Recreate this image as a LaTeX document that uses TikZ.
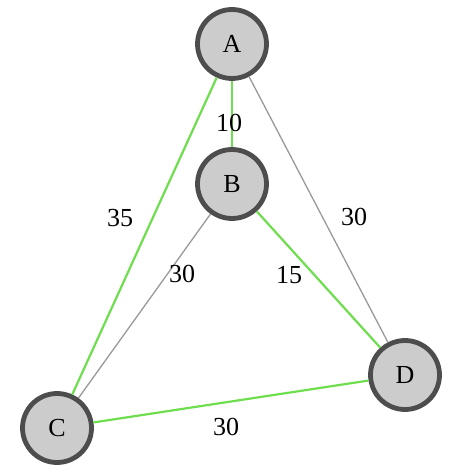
\documentclass[tikz,border=0pt]{standalone}
\usepackage{fontspec}
\setmainfont{Liberation Serif}
\definecolor{nodefill}{HTML}{CCCCCC}
\definecolor{nodeborder}{HTML}{4D4D4D}
\definecolor{edgegreen}{HTML}{6EDE4E}
\definecolor{edgegrey}{HTML}{999999}
\begin{document}
\begin{tikzpicture}[x=1pt,y=-1pt,
  vertex/.style={circle,draw=nodeborder,fill=nodefill,line width=4.8pt,minimum size=69pt,inner sep=0pt,font=\fontsize{26}{26}\selectfont},
  greenedge/.style={draw=edgegreen,line width=2.2pt},
  greyedge/.style={draw=edgegrey,line width=1.3pt},
  wlabel/.style={font=\fontsize{26}{26}\selectfont,inner sep=0pt}]
\useasboundingbox (0,0) rectangle (474,473);
\node[vertex] (A) at (232,44) {A};
\node[vertex] (B) at (232,184) {B};
\node[vertex] (C) at (57,428) {C};
\node[vertex] (D) at (405,375) {D};
\path[greenedge] (A) -- (B);
\path[greenedge] (A) -- (C);
\path[greyedge] (A) -- (D);
\path[greyedge] (B) -- (C);
\path[greenedge] (B) -- (D);
\path[greenedge] (C) -- (D);
\node[wlabel] (l10) at (229,123) {10};
\node[wlabel] (l35) at (120,218) {35};
\node[wlabel] (l30ad) at (354,217) {30};
\node[wlabel] (l30bc) at (182,274) {30};
\node[wlabel] (l15) at (289,275) {15};
\node[wlabel] (l30cd) at (226,427) {30};
\end{tikzpicture}
\end{document}
